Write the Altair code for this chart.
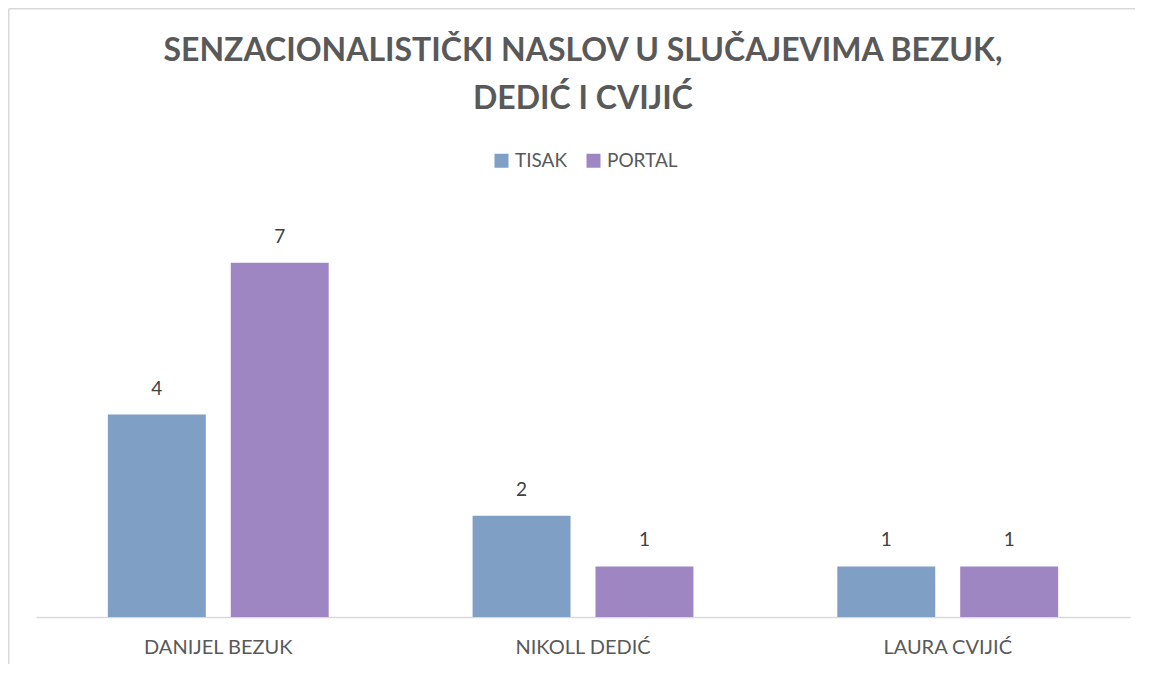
import altair as alt
import pandas as pd

categories = ["DANIJEL BEZUK", "NIKOLL DEDIĆ", "LAURA CVIJIĆ"]
series = ["TISAK", "PORTAL"]
tisak = [4, 2, 1]
portal = [7, 1, 1]
colors = ["#7F9FC4", "#9E86C2"]

rows = []
for i, c in enumerate(categories):
    rows.append({"osoba": c, "medij": "TISAK", "broj": tisak[i]})
    rows.append({"osoba": c, "medij": "PORTAL", "broj": portal[i]})
df = pd.DataFrame(rows)

FONT = "Lato"
GREY = "#595959"

x_enc = alt.X("osoba:N", sort=categories,
              scale=alt.Scale(paddingInner=0.3945, paddingOuter=0.197),
              axis=alt.Axis(title=None, labelAngle=0, labelFontSize=20, labelColor=GREY,
                            labelFont=FONT, labelPadding=20, ticks=False,
                            domainColor="#D9D9D9", domainWidth=1.5))
xoff = alt.XOffset("medij:N", sort=series, scale=alt.Scale(paddingInner=0.203, paddingOuter=0))
y_enc = alt.Y("broj:Q", scale=alt.Scale(domain=[0, 8], nice=False), axis=None)

bars = alt.Chart(df).mark_bar().encode(
    x=x_enc, xOffset=xoff, y=y_enc,
    color=alt.Color("medij:N", sort=series,
                    scale=alt.Scale(domain=series, range=colors),
                    legend=alt.Legend(title=None, orient="none", legendX=456, legendY=-61,
                                      direction="horizontal",
                                      symbolType="square", symbolSize=196, symbolStrokeWidth=0,
                                      labelFontSize=19, labelColor=GREY, labelFont=FONT,
                                      labelOffset=4, columnPadding=16)),
)

labels = alt.Chart(df).mark_text(dy=-16, fontSize=19, color="#404040", font=FONT, baseline="bottom").encode(
    x=alt.X("osoba:N", sort=categories), xOffset=xoff, y=y_enc, text="broj:Q"
)

frame_df = pd.DataFrame({"k": [0]})
top_line = alt.Chart(frame_df).mark_rule(color="#D9D9D9", strokeWidth=1.5, clip=False).encode(
    x=alt.value(-27.25), x2=alt.value(1113), y=alt.value(-203.25), y2=alt.value(-203.25))
left_line = alt.Chart(frame_df).mark_rule(color="#D9D9D9", strokeWidth=1.5, clip=False).encode(
    x=alt.value(-27.25), x2=alt.value(-27.25), y=alt.value(-203.25), y2=alt.value(461))

chart = alt.layer(top_line, left_line, bars, labels).properties(
    width=1094, height=405,
    autosize=alt.AutoSizeParams(type="none"),
    padding={"left": 28, "top": 204, "right": 5, "bottom": 47},
    title=alt.TitleParams(["SENZACIONALISTIČKI NASLOV U SLUČAJEVIMA BEZUK,", "DEDIĆ I CVIJIĆ"],
                          fontSize=32, font=FONT, fontWeight="bold", color=GREY,
                          lineHeight=48, anchor="middle", frame="group", offset=-108),
).configure_view(stroke=None)

chart.save("out.html", embed_options={"renderer": "svg", "actions": False})
